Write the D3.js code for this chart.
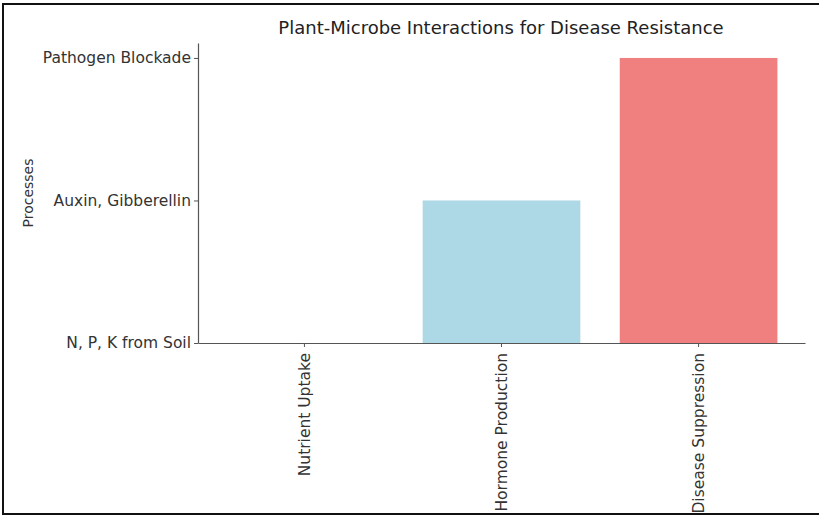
<!DOCTYPE html>
<html>
<head>
<meta charset="utf-8">
<script src="https://cdn.jsdelivr.net/npm/d3@7"></script>
<style>
  html, body { margin: 0; padding: 0; background: #fff; }
  svg { display: block; }
  text { font-family: "DejaVu Sans", sans-serif; }
</style>
</head>
<body>
<div id="chart"></div>
<script>
// Data
const categories = ["Nutrient Uptake", "Hormone Production", "Disease Suppression"];
const processLevels = ["N, P, K from Soil", "Auxin, Gibberellin", "Pathogen Blockade"];
const values = ["N, P, K from Soil", "Auxin, Gibberellin", "Pathogen Blockade"];
const colors = ["#ADD8E6", "#ADD8E6", "#F08080"];
const titleText = "Plant-Microbe Interactions for Disease Resistance";
const yLabelText = "Processes";

const W = 819, H = 518;
const margin = { left: 198, right: 14, top: 43, bottom: 175 };

const svg = d3.select("#chart").append("svg").attr("width", W).attr("height", H);

// Frame (top, left, bottom)
svg.append("path")
  .attr("d", `M${W},4 L3,4 L3,514 L${W},514`)
  .attr("fill", "none").attr("stroke", "#111").attr("stroke-width", 2);

const x = d3.scaleBand().domain(categories)
  .range([margin.left, W - margin.right])
  .paddingInner(0.2).paddingOuter(0.14);

const levelIndex = d3.scaleOrdinal().domain(processLevels).range(d3.range(processLevels.length));
const y = d3.scaleLinear().domain([0, 2.105]).range([H - margin.bottom, margin.top]);

// Bars
svg.append("g").selectAll("rect").data(categories).join("rect")
  .attr("x", d => x(d))
  .attr("width", x.bandwidth())
  .attr("y", (d, i) => y(levelIndex(values[i])))
  .attr("height", (d, i) => y(0) - y(levelIndex(values[i])))
  .attr("fill", (d, i) => colors[i]);

const axisColor = "#555";

// Y axis
const yAxis = svg.append("g").attr("transform", `translate(${margin.left},0)`)
  .call(d3.axisLeft(y).tickValues(d3.range(processLevels.length))
    .tickFormat(i => processLevels[i]).tickSize(4).tickPadding(3).tickSizeOuter(0));
yAxis.select(".domain").attr("stroke", axisColor).attr("stroke-width", 1.2);
yAxis.selectAll(".tick line").attr("stroke", axisColor);
yAxis.selectAll(".tick text").attr("fill", "#333").style("font-size", "15.5px");

// X axis
const xAxis = svg.append("g").attr("transform", `translate(0,${y(0)})`)
  .call(d3.axisBottom(x).tickSize(4).tickSizeOuter(0));
xAxis.select(".domain").attr("stroke", axisColor).attr("stroke-width", 1.2);
xAxis.selectAll(".tick line").attr("stroke", axisColor);
xAxis.selectAll(".tick text")
  .attr("fill", "#333").style("font-size", "15.5px")
  .attr("transform", "rotate(-90)")
  .attr("text-anchor", "end")
  .attr("x", -10).attr("y", 0).attr("dy", "0.35em");

// Title
svg.append("text").attr("x", 501).attr("y", 34)
  .attr("text-anchor", "middle").attr("fill", "#222")
  .style("font-size", "18px").text(titleText);

// Y label
svg.append("text")
  .attr("transform", `translate(33,${(y(0) + margin.top) / 2}) rotate(-90)`)
  .attr("text-anchor", "middle").attr("fill", "#333")
  .style("font-size", "14px").text(yLabelText);
</script>
</body>
</html>
